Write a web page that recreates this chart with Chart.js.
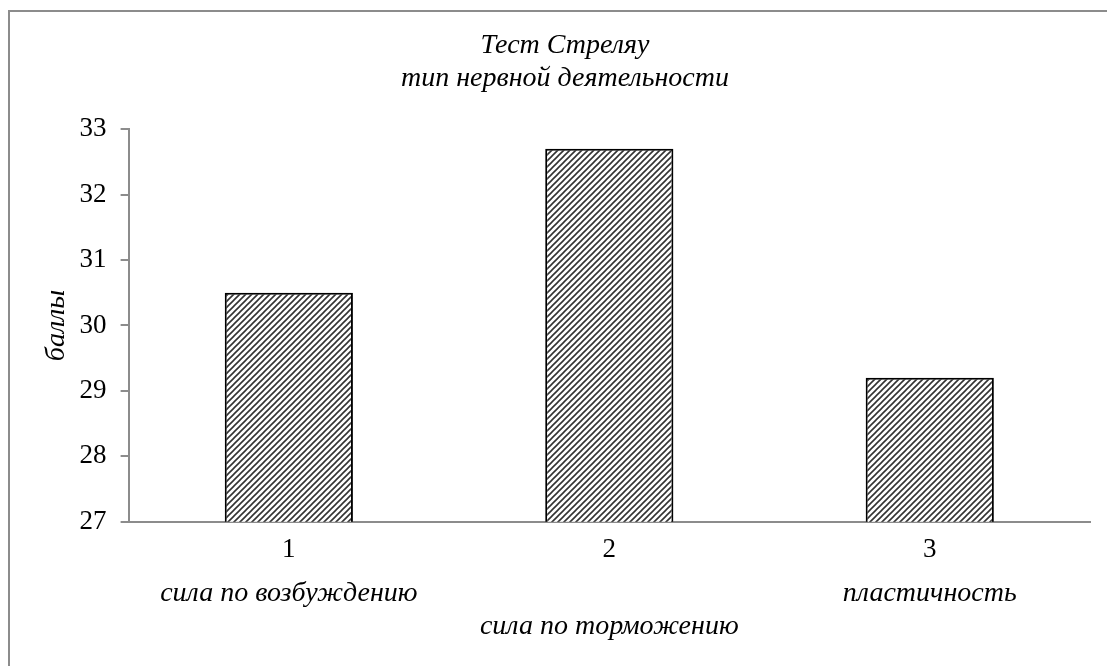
<!DOCTYPE html>
<html>
<head>
<meta charset="utf-8">
<script src="https://cdn.jsdelivr.net/npm/chart.js@4"></script>
<style>
    body { margin: 0; background: #fff; }
    .frame {
        position: absolute;
        left: 8px;
        top: 10px;
        width: 1099px;
        height: 656px;
        border-left: 2px solid #8c8c8c;
        border-top: 2px solid #8c8c8c;
    }
    #myChart { position: absolute; left: 0; top: 0; }
</style>
</head>
<body>
<div class="frame"></div>
<canvas id="myChart" width="1107" height="666"></canvas>
<script>
const labels = ['1', '2', '3'];
const names = ['сила по возбуждению', 'сила по торможению', 'пластичность'];
const values = [30.5, 32.7, 29.2];
const yTicks = [27, 28, 29, 30, 31, 32, 33];

// hatch fill like the excel "wide upward diagonal"
function hatch() {
    let c = document.createElement('canvas')
    c.width = 6
    c.height = 6
    let g = c.getContext('2d')
    g.fillStyle = '#fff'
    g.fillRect(0, 0, 6, 6)
    g.strokeStyle = '#333'
    g.lineWidth = 1.6
    g.beginPath()
    g.moveTo(-1, 7); g.lineTo(7, -1)
    g.moveTo(-4, 4); g.lineTo(4, -4)
    g.moveTo(2, 10); g.lineTo(10, 2)
    g.stroke()
    return g.createPattern(c, 'repeat')
}

const font = 'Liberation Serif, Times New Roman, serif';

const data = {
    labels: labels,
    datasets: [{
        data: values,
        backgroundColor: hatch(),
        borderColor: '#000',
        borderWidth: 2,
        borderSkipped: 'bottom',
        barPercentage: 0.4,
        categoryPercentage: 1,
    }]
};

const config = {
    type: 'bar',
    data: data,
    options: {
        responsive: false,
        animation: false,
        layout: { padding: { left: 40, right: 17, top: 20, bottom: 24 } },
        plugins: {
            legend: { display: false },
            tooltip: { enabled: false },
            title: {
                display: true,
                text: ['Тест Стреляу', 'тип нервной деятельности'],
                color: '#000',
                font: { family: font, size: 28, style: 'italic', weight: 'normal', lineHeight: 1.18 },
                padding: { top: 9, bottom: 34 }
            }
        },
        scales: {
            x: {
                weight: 0,
                grid: { display: false },
                border: { color: '#8c8c8c', width: 2 },
                ticks: { color: '#000', font: { family: font, size: 27, lineHeight: 1.2 }, padding: 4 }
            },
            x2: {
                type: 'category',
                position: 'bottom',
                weight: 1,
                labels: [[names[0]], ['', names[1]], [names[2]]],
                grid: { display: false },
                border: { display: false },
                ticks: { color: '#000', font: { family: font, size: 28, style: 'italic', lineHeight: 1.21 }, padding: -2 }
            },
            y: {
                min: 27,
                max: 33,
                afterBuildTicks: (axis) => { axis.ticks = yTicks.map(v => ({ value: v })) },
                grid: { drawOnChartArea: false, tickLength: 8, color: '#8c8c8c', lineWidth: 2 },
                border: { color: '#8c8c8c', width: 2 },
                ticks: { color: '#000', font: { family: font, size: 27 }, padding: 14 },
                title: {
                    display: true,
                    text: 'баллы',
                    color: '#000',
                    font: { family: font, size: 28, style: 'italic', lineHeight: 1.2 },
                    padding: { top: 0, bottom: -8 }
                }
            }
        }
    }
};

const myChart = new Chart(
    document.getElementById('myChart'),
    config
);
</script>
</body>
</html>
